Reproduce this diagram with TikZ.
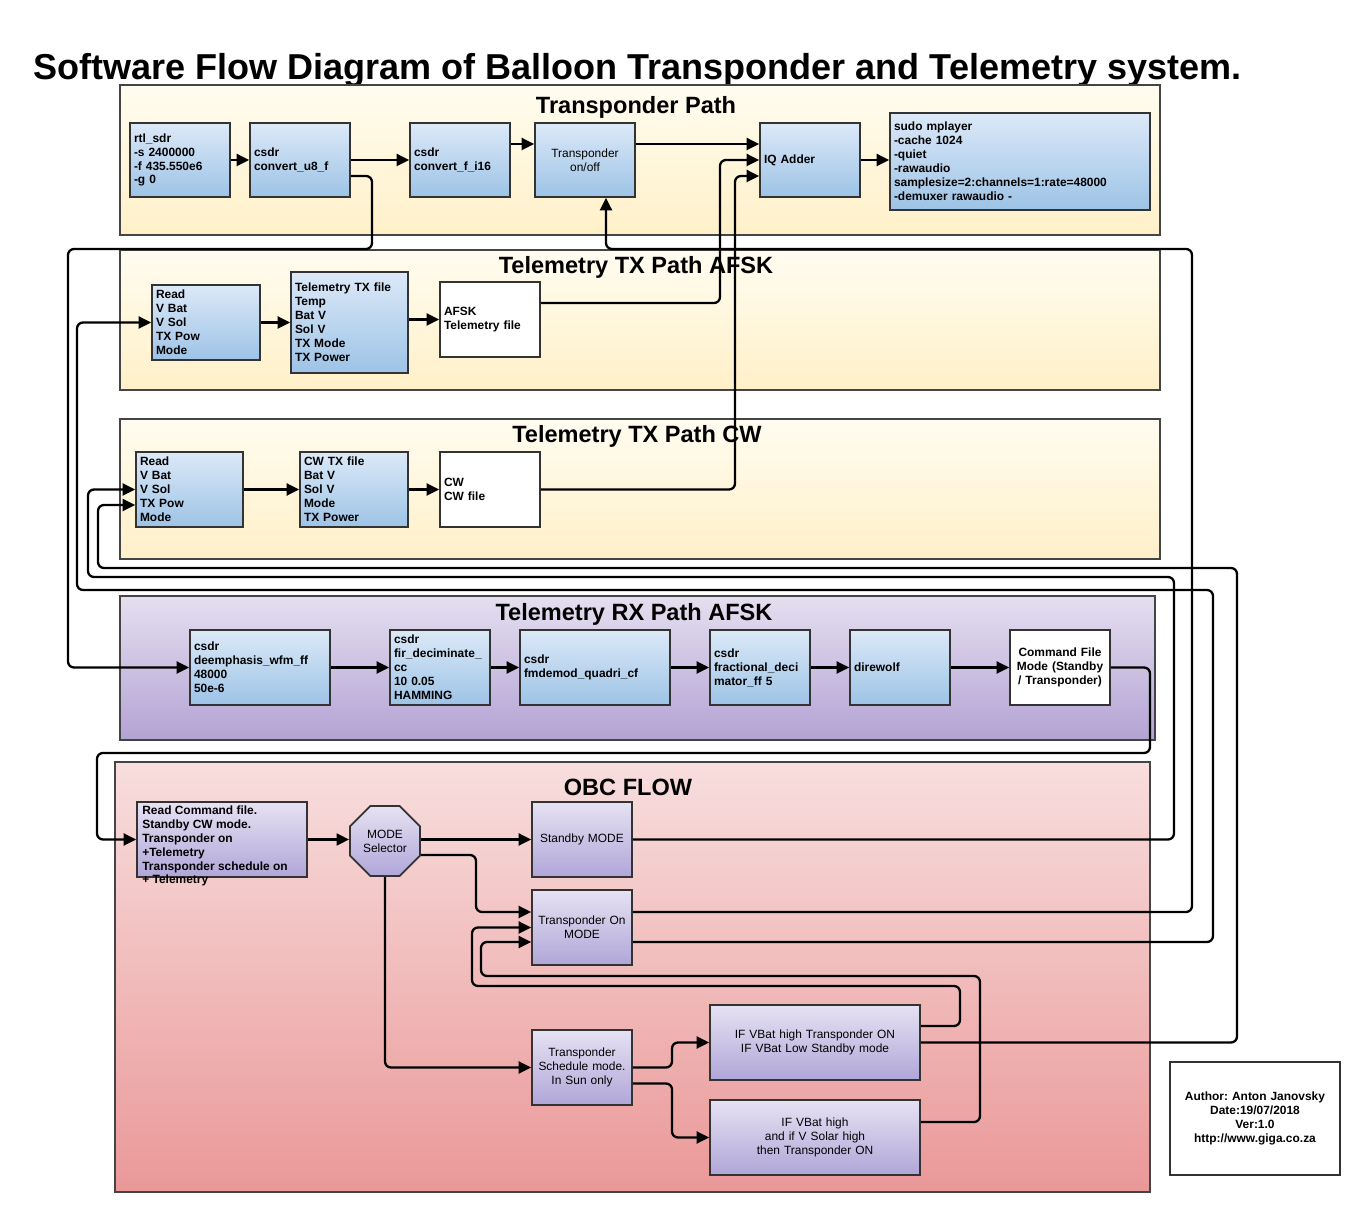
\documentclass[tikz,border=0pt]{standalone}
\usepackage{fontspec}
\setmainfont{Liberation Sans}
\usetikzlibrary{arrows.meta,shapes.geometric,calc}
\frenchspacing
\definecolor{bxtop}{HTML}{DCE9F8}
\definecolor{bxbot}{HTML}{9DC3E6}
\definecolor{pxtop}{HTML}{E6E2F3}
\definecolor{pxbot}{HTML}{B0A6D8}
\definecolor{ytop}{HTML}{FFFCF0}
\definecolor{ybot}{HTML}{FFF0C8}
\definecolor{rtop}{HTML}{E5DFF0}
\definecolor{rbot}{HTML}{B3A3D4}
\definecolor{otop}{HTML}{F8DEDE}
\definecolor{obot}{HTML}{EA9898}
\definecolor{edgegray}{HTML}{333333}
\definecolor{secgray}{HTML}{444444}
\newcommand\myfb{\fontsize{6.8pt}{7.94pt}\selectfont\bfseries}
\newcommand\myfr{\fontsize{6.8pt}{7.94pt}\selectfont}
\newcommand\myfsec{\fontsize{13.4pt}{16pt}\selectfont\bfseries}
\newcommand\myfmain{\fontsize{20.5pt}{24pt}\selectfont\bfseries}
\newcommand\mybox[7]{%
  \pgfmathsetlengthmacro\mybw{(#4-#2)*0.02cm}%
  \pgfmathsetlengthmacro\mybh{(#5-#3)*0.02cm}%
  \pgfmathsetlengthmacro\mytw{(#4-#2-8)*0.02cm}%
  \node[#6, minimum width=\mybw, minimum height=\mybh, text width=\mytw] (#1) at ({(#2+#4)/2},{(#3+#5)/2}) {#7};}
\tikzset{
  boxbase/.style={draw=edgegray, line width=1pt, inner xsep=0.08cm, inner ysep=0pt},
  bluebox/.style={boxbase, top color=bxtop, bottom color=bxbot, font=\myfb, align=left},
  bluec/.style={boxbase, top color=bxtop, bottom color=bxbot, font=\myfr, align=center},
  whitebox/.style={boxbase, fill=white, font=\myfb, align=left},
  whitec/.style={boxbase, fill=white, font=\myfb, align=center},
  purbox/.style={boxbase, top color=pxtop, bottom color=pxbot, font=\myfr, align=center},
  sect/.style={draw=secgray, line width=1pt},
  sectitle/.style={font=\myfsec, anchor=base, inner sep=0pt},
  conn/.style={line width=1.3pt, rounded corners=0.12cm, -{Triangle[length=0.25cm,width=0.24cm]}}
}
\begin{document}
\begin{tikzpicture}[x=0.02cm, y=-0.02cm]
\useasboundingbox[fill=white] (0,0) rectangle (1360,1212);

\node[font=\myfmain, anchor=base west, inner sep=0pt] (maintitle) at (33,80) {Software Flow Diagram of Balloon Transponder and Telemetry system.};

% sections
\path[sect, top color=ytop, bottom color=ybot] (120,85) rectangle (1160,235);
\path[sect, top color=ytop, bottom color=ybot] (120,250) rectangle (1160,390);
\path[sect, top color=ytop, bottom color=ybot] (120,419) rectangle (1160,559);
\path[sect, top color=rtop, bottom color=rbot] (120,596) rectangle (1155,740);
\path[sect, top color=otop, bottom color=obot] (115,762) rectangle (1150,1192);

\node[sectitle] (t1) at (636,114) {Transponder Path};
\node[sectitle] (t2) at (636,274) {Telemetry TX Path AFSK};
\node[sectitle] (t3) at (637,443) {Telemetry TX Path CW};
\node[sectitle] (t4) at (634,621) {Telemetry RX Path AFSK};
\node[sectitle] (t5) at (628,796) {OBC FLOW};

% transponder path
\mybox{rtl}{130}{123}{230}{197}{bluebox}{rtl\_sdr\\-s 2400000\\-f 435.550e6\\-g 0}
\mybox{u8}{250}{123}{350}{197}{bluebox}{csdr\\convert\_u8\_f}
\mybox{fi16}{410}{123}{510}{197}{bluebox}{csdr\\convert\_f\_i16}
\mybox{tpon}{535}{123}{635}{197}{bluec}{Transponder\\on/off}
\mybox{iq}{760}{123}{860}{197}{bluebox}{IQ Adder}
\mybox{mp}{890}{113}{1150}{210}{bluebox}{sudo mplayer\\-cache 1024\\-quiet\\-rawaudio\\samplesize=2:channels=1:rate=48000\\-demuxer rawaudio -}

% telemetry afsk
\mybox{read1}{152}{285}{260}{360}{bluebox}{Read\\V Bat\\V Sol\\TX Pow\\Mode}
\mybox{teltx}{291}{272}{408}{373}{bluebox}{Telemetry TX file\\Temp\\Bat V\\Sol V\\TX Mode\\TX Power}
\mybox{afsk}{440}{282}{540}{357}{whitebox}{AFSK\\Telemetry file}

% telemetry cw
\mybox{read2}{136}{452}{243}{527}{bluebox}{Read\\V Bat\\V Sol\\TX Pow\\Mode}
\mybox{cwtx}{300}{452}{408}{527}{bluebox}{CW TX file\\Bat V\\Sol V\\Mode\\TX Power}
\mybox{cwf}{440}{452}{540}{527}{whitebox}{CW\\CW file}

% rx path
\mybox{deem}{190}{630}{330}{705}{bluebox}{csdr\\deemphasis\_wfm\_ff\\48000\\50e-6}
\mybox{fir}{390}{630}{490}{705}{bluebox}{csdr\\fir\_deciminate\_\\cc\\10 0.05\\HAMMING}
\mybox{fmd}{520}{630}{670}{705}{bluebox}{csdr\\fmdemod\_quadri\_cf}
\mybox{frac}{710}{630}{810}{705}{bluebox}{csdr\\fractional\_deci\\mator\_ff 5}
\mybox{dw}{850}{630}{950}{705}{bluebox}{direwolf}
\mybox{cmd}{1010}{630}{1110}{705}{whitec}{Command File\\Mode (Standby\\/ Transponder)}

% OBC
\mybox{rcf}{137}{802}{307}{877}{purbox}{}
\node[font=\myfb, align=left, anchor=west, inner sep=0pt] (rcft) at (142,846) {Read Command file.\\Standby CW mode.\\Transponder on\\+Telemetry\\Transponder schedule on\\+ Telemetry};
\node[regular polygon, regular polygon sides=8, minimum size=1.52cm, inner sep=0pt, draw=edgegray, line width=1pt, top color=pxtop, bottom color=pxbot, font=\myfr, align=center] (sel) at (385,841) {MODE\\Selector};
\mybox{stb}{532}{802}{632}{877}{purbox}{Standby MODE}
\mybox{tpm}{532}{890}{632}{965}{purbox}{Transponder On\\MODE}
\mybox{sched}{532}{1030}{632}{1105}{purbox}{Transponder\\Schedule mode.\\In Sun only}
\mybox{ifv1}{710}{1005}{920}{1080}{purbox}{IF VBat high Transponder ON\\IF VBat Low Standby mode}
\mybox{ifv2}{710}{1100}{920}{1175}{purbox}{IF VBat high\\and if V Solar high\\then Transponder ON}

% author
\mybox{auth}{1170}{1062}{1340}{1175}{whitec}{Author: Anton Janovsky\\Date:19/07/2018\\Ver:1.0\\http://www.giga.co.za}

% connectors: transponder
\draw[conn] (rtl) -- (u8);
\draw[conn] (u8) -- (fi16);
\draw[conn] ($(fi16.east)+(0,-16)$) -- ($(tpon.west)+(0,-16)$);
\draw[conn] ($(tpon.east)+(0,-16)$) -- ($(iq.west)+(0,-16)$);
\draw[conn] (iq.east) -- (iq.east -| mp.west);
\draw[conn] ($(afsk.east)+(0,-16.5)$) -- (720,303) -- (720,160) -- (iq.west);
\draw[conn] (cwf.east) -- (735,489.5) -- (735,176) -- ($(iq.west)+(0,16)$);
\draw[conn] ($(u8.east)+(0,16)$) -- (372,176) -- (372,249) -- (68,249) -- (68,667.5) -- (deem.west);
\draw[conn] ($(tpm.east)+(0,-15.5)$) -- (1192,912) -- (1192,249) -- (606,249) -- ($(tpon.south)+(21,0)$);

% afsk
\draw[conn] (read1) -- (teltx);
\draw[conn] (teltx.east |- afsk.west) -- (afsk.west);
\draw[conn] ($(tpm.east)+(0,14.5)$) -- (1213,942) -- (1213,590) -- (77,590) -- (77,322.5) -- (read1.west);

% cw
\draw[conn] (read2) -- (cwtx);
\draw[conn] (cwtx) -- (cwf);
\draw[conn] (stb.east) -- (1174,839.5) -- (1174,577) -- (88,577) -- (88,489.5) -- (read2.west);
\draw[conn] (ifv1.east) -- (1237,1042.5) -- (1237,568) -- (98,568) -- (98,505) -- ($(read2.west)+(0,15.5)$);

% rx
\draw[conn] (deem) -- (fir);
\draw[conn] (fir) -- (fmd);
\draw[conn] (fmd) -- (frac);
\draw[conn] (frac) -- (dw);
\draw[conn] (dw) -- (cmd);
\draw[conn] (cmd.east) -- (1150,667.5) -- (1150,753) -- (97,753) -- (97,839.5) -- (rcf.west);

% obc
\draw[conn] (rcf.east) -- (rcf.east -| sel.west);
\draw[conn] (stb.west -| sel.east) -- (stb.west);
\draw[conn] ($(sel.east)+(0,14)$) -- (476,855) -- (476,912) -- ($(tpm.west)+(0,-15.5)$);
\draw[conn] (sel.south) -- (385,1067.5) -- (sched.west);
\draw[conn] (sched.east) -- (672,1067.5) -- (672,1042.5) -- (ifv1.west);
\draw[conn] ($(sched.east)+(0,16)$) -- (672,1083.5) -- (672,1137.5) -- (ifv2.west);
\draw[conn] ($(ifv1.east)+(0,-16.5)$) -- (960,1026) -- (960,986) -- (472,986) -- (472,927.5) -- (tpm.west);
\draw[conn] ($(ifv2.east)+(0,-15.5)$) -- (980,1122) -- (980,976) -- (481,976) -- (481,942) -- ($(tpm.west)+(0,14.5)$);
\end{tikzpicture}
\end{document}
